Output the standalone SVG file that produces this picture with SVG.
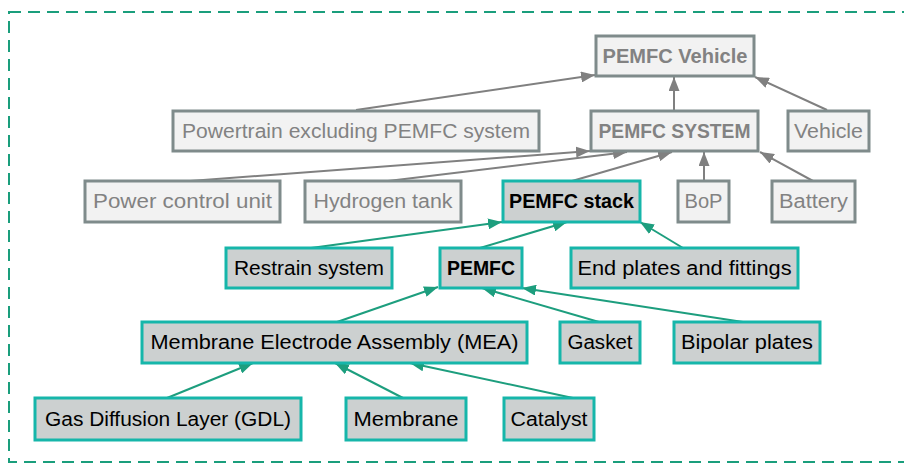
<svg xmlns="http://www.w3.org/2000/svg" width="904" height="464" viewBox="0 0 904 464">
<defs>
<marker id="ag" viewBox="0 0 14 11" refX="14" refY="5.5" markerWidth="14" markerHeight="11" markerUnits="userSpaceOnUse" orient="auto"><path d="M0,0 L14,5.5 L0,11 Z" fill="#808080"/></marker>
<marker id="at" viewBox="0 0 14 11" refX="14" refY="5.5" markerWidth="14" markerHeight="11" markerUnits="userSpaceOnUse" orient="auto"><path d="M0,0 L14,5.5 L0,11 Z" fill="#1d9e7e"/></marker>
<style>
.g rect{fill:#f2f2f2;stroke:#7f8b8b;stroke-width:3}
.g text{fill:#828282}
.t rect{fill:#ccd0d0;stroke:#16b6aa;stroke-width:3}
.t text{fill:#000}
text{font-family:"Liberation Sans",Arial,sans-serif;font-size:20px;text-anchor:middle}
.b{font-weight:bold}
.cg line{stroke:#808080;stroke-width:2;marker-end:url(#ag)}
.ct line{stroke:#1d9e7e;stroke-width:2;marker-end:url(#at)}
</style>
</defs>
<rect x="9" y="12" width="900" height="450" fill="#fff" stroke="#1a9e7c" stroke-width="2" stroke-dasharray="12 7"/>
<g id="connectors">
<g class="cg">
<line x1="356" y1="110" x2="595" y2="75"/>
<line x1="674" y1="110" x2="674" y2="77"/>
<line x1="827" y1="110" x2="755" y2="77"/>
<line x1="190" y1="181" x2="590" y2="151"/>
<line x1="388" y1="181" x2="627" y2="152"/>
<line x1="572" y1="181" x2="672" y2="152"/>
<line x1="704" y1="181" x2="704" y2="152"/>
<line x1="813" y1="181" x2="760" y2="152"/>
</g>
<g class="ct">
<line x1="311" y1="248" x2="502" y2="222"/>
<line x1="480" y1="248" x2="567" y2="222"/>
<line x1="683" y1="248" x2="640" y2="222"/>
<line x1="337" y1="322" x2="438" y2="287"/>
<line x1="599" y1="322" x2="482" y2="288"/>
<line x1="743" y1="322" x2="522" y2="288"/>
<line x1="167" y1="398" x2="253" y2="363"/>
<line x1="403" y1="398" x2="335" y2="363"/>
<line x1="573" y1="398" x2="410" y2="363"/>
</g>
</g>
<g id="pemfc-vehicle" class="g"><rect x="596" y="36" width="158" height="40"/><text class="b" x="675" y="63" textLength="145" lengthAdjust="spacingAndGlyphs">PEMFC Vehicle</text></g>
<g id="powertrain" class="g"><rect x="173" y="111" width="366" height="40"/><text x="356" y="138" textLength="348" lengthAdjust="spacingAndGlyphs">Powertrain excluding PEMFC system</text></g>
<g id="pemfc-system" class="g"><rect x="591" y="111" width="167" height="40"/><text class="b" x="674.5" y="138" textLength="152" lengthAdjust="spacingAndGlyphs">PEMFC SYSTEM</text></g>
<g id="vehicle" class="g"><rect x="788" y="111" width="81" height="40"/><text x="828.5" y="138" textLength="69" lengthAdjust="spacingAndGlyphs">Vehicle</text></g>
<g id="power-control-unit" class="g"><rect x="85" y="181" width="195" height="41"/><text x="182.5" y="208" textLength="179" lengthAdjust="spacingAndGlyphs">Power control unit</text></g>
<g id="hydrogen-tank" class="g"><rect x="305" y="181" width="156" height="41"/><text x="383" y="208" textLength="139" lengthAdjust="spacingAndGlyphs">Hydrogen tank</text></g>
<g id="pemfc-stack" class="t"><rect x="503" y="181" width="137" height="41"/><text class="b" x="571.5" y="208" textLength="125" lengthAdjust="spacingAndGlyphs">PEMFC stack</text></g>
<g id="bop" class="g"><rect x="678" y="181" width="51" height="41"/><text x="703.5" y="208" textLength="38" lengthAdjust="spacingAndGlyphs">BoP</text></g>
<g id="battery" class="g"><rect x="772" y="181" width="83" height="41"/><text x="813.5" y="208" textLength="69" lengthAdjust="spacingAndGlyphs">Battery</text></g>
<g id="restrain-system" class="t"><rect x="226" y="248" width="166" height="40"/><text x="309" y="275" textLength="150" lengthAdjust="spacingAndGlyphs">Restrain system</text></g>
<g id="pemfc" class="t"><rect x="440" y="248" width="82" height="40"/><text class="b" x="481" y="275" textLength="68" lengthAdjust="spacingAndGlyphs">PEMFC</text></g>
<g id="end-plates" class="t"><rect x="571" y="248" width="227" height="40"/><text x="684.5" y="275" textLength="214" lengthAdjust="spacingAndGlyphs">End plates and fittings</text></g>
<g id="mea" class="t"><rect x="142" y="322" width="385" height="41"/><text x="334.5" y="349" textLength="368" lengthAdjust="spacingAndGlyphs">Membrane Electrode Assembly (MEA)</text></g>
<g id="gasket" class="t"><rect x="560" y="322" width="80" height="41"/><text x="600" y="349" textLength="65" lengthAdjust="spacingAndGlyphs">Gasket</text></g>
<g id="bipolar-plates" class="t"><rect x="674" y="322" width="146" height="41"/><text x="747" y="349" textLength="132" lengthAdjust="spacingAndGlyphs">Bipolar plates</text></g>
<g id="gdl" class="t"><rect x="35" y="398" width="266" height="42"/><text x="168" y="426" textLength="246" lengthAdjust="spacingAndGlyphs">Gas Diffusion Layer (GDL)</text></g>
<g id="membrane" class="t"><rect x="346" y="398" width="120" height="42"/><text x="406" y="426" textLength="105" lengthAdjust="spacingAndGlyphs">Membrane</text></g>
<g id="catalyst" class="t"><rect x="504" y="398" width="90" height="42"/><text x="549" y="426" textLength="77" lengthAdjust="spacingAndGlyphs">Catalyst</text></g>
</svg>
